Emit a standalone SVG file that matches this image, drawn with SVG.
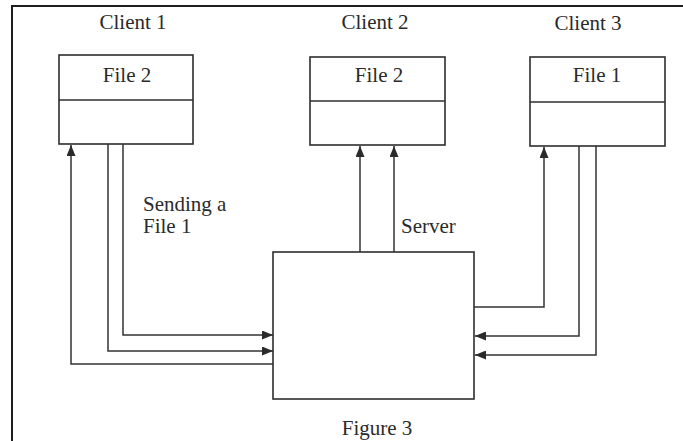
<svg xmlns="http://www.w3.org/2000/svg" width="683" height="441" viewBox="0 0 683 441">
  <style>
    .box { fill: #ffffff; stroke: #2e2e2e; stroke-width: 1.6; }
    .div { stroke: #2e2e2e; stroke-width: 1.6; }
    .wire { fill: none; stroke: #333333; stroke-width: 1.5; }
    .frame { fill: none; stroke: #1e1e1e; stroke-width: 2; }
    text { font-family: "Liberation Serif", "Times New Roman", serif; font-size: 21px; fill: #2a2a2a; }
    .mid { text-anchor: middle; }
  </style>
  <defs>
    <marker id="arrow" viewBox="0 0 11 9" refX="11" refY="4.5" markerWidth="11" markerHeight="9" markerUnits="userSpaceOnUse" orient="auto">
      <path d="M0,0 L11,4.5 L0,9 Z" fill="#2a2a2a"/>
    </marker>
  </defs>

  <rect width="683" height="441" fill="#ffffff"/>
  <!-- page frame (top and left edges) -->
  <path class="frame" d="M12,441 V6 H683"/>

  <g id="client1">
    <text class="mid" x="133" y="29">Client 1</text>
    <rect class="box" x="59" y="55" width="134" height="89"/>
    <line class="div" x1="59" y1="100" x2="193" y2="100"/>
    <text class="mid" x="127" y="82">File 2</text>
  </g>

  <g id="client2">
    <text class="mid" x="375" y="29">Client 2</text>
    <rect class="box" x="310" y="57" width="135" height="88"/>
    <line class="div" x1="310" y1="101" x2="445" y2="101"/>
    <text class="mid" x="379" y="82">File 2</text>
  </g>

  <g id="client3">
    <text class="mid" x="588" y="30">Client 3</text>
    <rect class="box" x="530" y="57" width="135" height="89"/>
    <line class="div" x1="530" y1="102" x2="665" y2="102"/>
    <text class="mid" x="597" y="82">File 1</text>
  </g>

  <g id="server">
    <rect class="box" x="273" y="252" width="201" height="147"/>
    <text x="401" y="233">Server</text>
  </g>

  <g id="connectors">
    <!-- client 1 side -->
    <path class="wire" d="M273,364 H71 V145" marker-end="url(#arrow)"/>
    <path class="wire" d="M108,144 V351 H273" marker-end="url(#arrow)"/>
    <path class="wire" d="M123,144 V335 H273" marker-end="url(#arrow)"/>
    <!-- client 2 side -->
    <path class="wire" d="M360,252 V146" marker-end="url(#arrow)"/>
    <path class="wire" d="M394,252 V146" marker-end="url(#arrow)"/>
    <!-- client 3 side -->
    <path class="wire" d="M474,307 H544 V147" marker-end="url(#arrow)"/>
    <path class="wire" d="M579,146 V336 H475" marker-end="url(#arrow)"/>
    <path class="wire" d="M596,146 V355 H475" marker-end="url(#arrow)"/>
  </g>

  <g id="labels">
    <text x="143" y="211">Sending a</text>
    <text x="143" y="233">File 1</text>
    <text class="mid" x="377" y="435">Figure 3</text>
  </g>
</svg>
